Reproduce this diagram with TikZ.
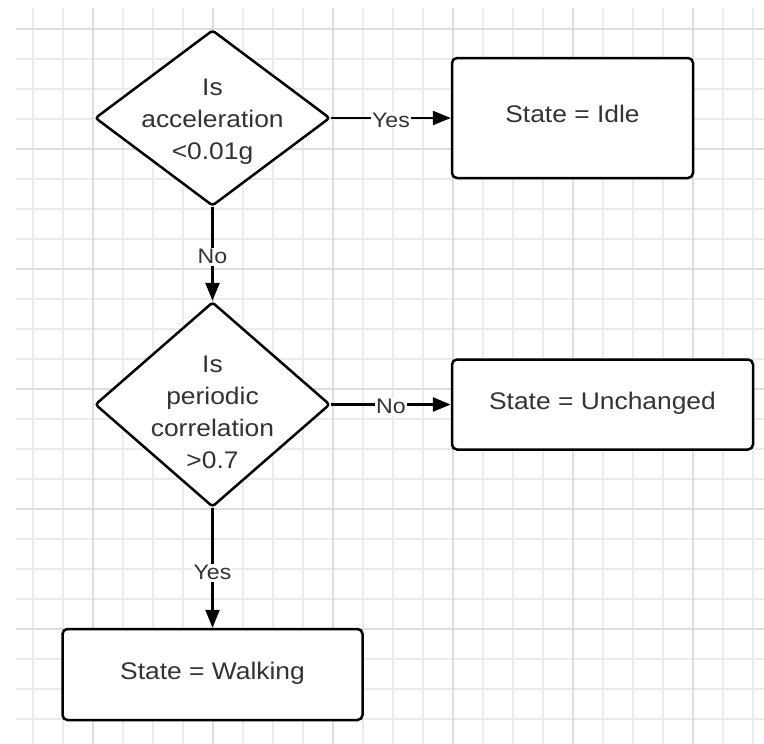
\documentclass[tikz,border=0pt]{standalone}
\usepackage{fontspec}
\setmainfont{Liberation Sans}[FakeStretch=1.1]
\usetikzlibrary{shapes.geometric,arrows.meta}
\definecolor{txt}{HTML}{333333}
\definecolor{gridlt}{HTML}{EBEBEB}
\definecolor{griddk}{HTML}{DDDDDD}
\begin{document}
\begin{tikzpicture}[x=1pt,y=-1pt,
  gridline/.style={gridlt,line width=1.3pt},
  gridmajor/.style={griddk,line width=1.3pt},
  decision/.style={diamond,draw=black,fill=white,line width=2.5pt,inner sep=0pt,rounded corners=3pt},
  dtext/.style={align=center,text=txt,font=\fontsize{24}{32}\selectfont,inner sep=0pt},
  statebox/.style={rectangle,draw=black,fill=white,line width=2.5pt,rounded corners=5pt,inner sep=0pt,
    text=txt,font=\fontsize{24}{32}\selectfont,text height=17pt,text depth=8pt},
  conn/.style={draw=black,line width=2.5pt,-{Triangle[length=18pt,width=14pt]}},
  lbl/.style={fill=white,text=txt,font=\fontsize{21}{24}\selectfont,inner sep=1.5pt}
]
\fill[white] (0,0) rectangle (764,744);
\useasboundingbox (0,0) rectangle (764,744);
% grid
\foreach \i in {0,...,23} \draw[gridline] (16,{29+30*\i}) -- (764,{29+30*\i});
\foreach \i in {0,...,24} \draw[gridline] ({33+30*\i},8) -- ({33+30*\i},744);
\foreach \i in {0,...,5} \draw[gridmajor] (16,{29+120*\i}) -- (764,{29+120*\i});
\foreach \i in {0,...,5} \draw[gridmajor] ({93+120*\i},8) -- ({93+120*\i},744);
% decisions
\node[decision,minimum width=235pt,minimum height=176pt] (d1) at (212.5,118) {};
\node[dtext] (d1t) at (212.5,122) {Is\\acceleration\\<0.01g};
\node[decision,minimum width=235pt,minimum height=205pt] (d2) at (212.5,404.5) {};
\node[dtext] (d2t) at (212.5,412) {Is\\periodic\\correlation\\>0.7};
% states
\node[statebox,minimum width=241pt,minimum height=120pt] (idle) at (572.5,118) {State = Idle};
\node[statebox,minimum width=301pt,minimum height=90pt] (unch) at (602.5,404.5) {State = Unchanged};
\node[statebox,minimum width=300pt,minimum height=91pt] (walk) at (212.5,674.5) {State = Walking};
% connectors
\draw[conn] (d1.east) -- node[lbl,yshift=-2pt] (l1) {Yes} (idle.west);
\draw[conn] (d1.south) -- node[lbl,pos=0.53] (l2) {No} (d2.north);
\draw[conn] (d2.east) -- node[lbl,yshift=-2pt] (l3) {No} (unch.west);
\draw[conn] (d2.south) -- node[lbl,pos=0.54] (l4) {Yes} (walk.north);
\end{tikzpicture}
\end{document}
